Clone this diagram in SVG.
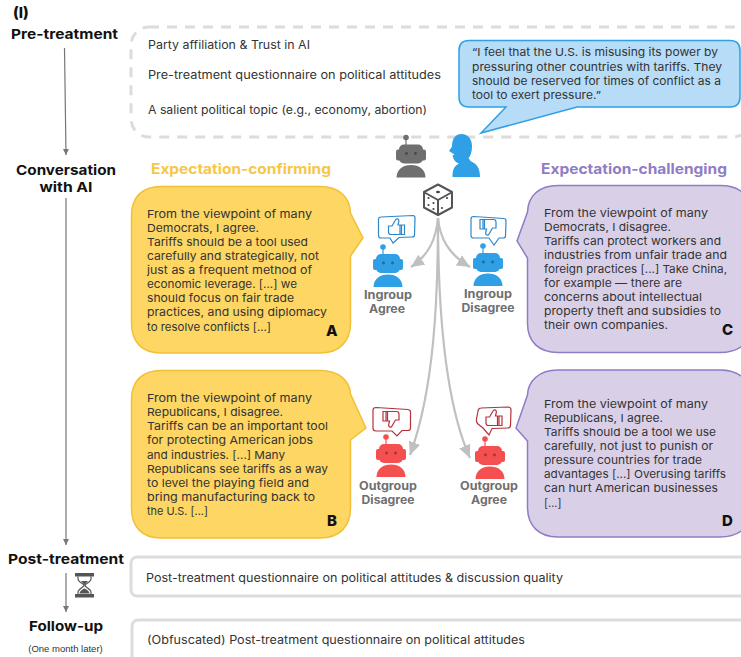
<svg xmlns="http://www.w3.org/2000/svg" width="741" height="657" viewBox="0 0 741 657">
<style>
text{font-family:"Inter","Liberation Sans",sans-serif;fill:#333}
.b{font-size:11px}
.q{font-size:11.400px}
.h{font-size:13.500px;font-weight:700;fill:#111;text-anchor:middle}
.g{font-size:11.500px;font-weight:700;fill:#6f6f6f;text-anchor:middle}
.l{font-size:15px;font-weight:800;fill:#111}
.y{fill:#fdd663;stroke:#f2c037;stroke-width:1.5}
.p{fill:#d9d0e8;stroke:#8f7cc4;stroke-width:1.5}
.box{fill:#fff;stroke:#dcdcdc;stroke-width:3}
.sb{fill:#fff;stroke-width:1.2}
.ar{fill:none;stroke:#777;stroke-width:1.2}
.cv{fill:none;stroke:#c0c0c0;stroke-width:2.2}
</style>
<defs>
<marker id="ma" markerUnits="userSpaceOnUse" markerWidth="8" markerHeight="8" refX="6" refY="3" orient="auto"><path d="M0 0L6 3L0 6Z" fill="#777"/></marker>
<marker id="mb" markerUnits="userSpaceOnUse" markerWidth="16" markerHeight="16" refX="13" refY="6" orient="auto"><path d="M0 0L13 6L0 12Z" fill="#c0c0c0"/></marker>
<g id="robot">
<circle cx="-5" cy="-7" r="2.8"/>
<rect x="-5.600" y="-6" width="1.2" height="7"/>
<rect x="-15" y="5" width="5" height="11" rx="2"/>
<rect x="10" y="5" width="5" height="11" rx="2"/>
<rect x="-12" y="0" width="24" height="19" rx="5"/>
<circle cx="-4.500" cy="9" r="1.400" fill="#000" fill-opacity=".35"/>
<circle cx="4.500" cy="9" r="1.400" fill="#000" fill-opacity=".35"/>
<path d="M-14.500 33C-14.500 25-8 20.500 0 20.500C8 20.500 14.500 25 14.500 33Z"/>
</g>
<path id="thumb" d="M-8-1h3.500l3.500-6c.9-2 3.400-1.400 3.400 .9l-.9 4.100h3.500v9.500h-10.500c-1.800 0-2.500-1.100-2.500-2.800zM3.500-2h4.500v9.500h-4.500z" fill="none" stroke-width="1.200"/>
</defs>

<g id="connectors">
<path class="ar" d="M64.500 48L66 155" marker-end="url(#ma)"/>
<path class="ar" d="M66 198L66 545" marker-end="url(#ma)"/>
<path class="ar" d="M66 573L66 612" marker-end="url(#ma)"/>
<path class="cv" d="M438 218C436 238 430 254 411 267" marker-end="url(#mb)"/>
<path class="cv" d="M438 218C440 238 448 254 470 267" marker-end="url(#mb)"/>
<path class="cv" d="M438 218C438 300 434 390 410 455" marker-end="url(#mb)"/>
<path class="cv" d="M438 218C438 300 444 400 470 458" marker-end="url(#mb)"/>
</g>

<g id="stage-labels">
<text x="13" y="18" class="l">(I)</text>
<text x="64.500" y="39" class="h" textLength="107" lengthAdjust="spacingAndGlyphs">Pre-treatment</text>
<text x="66" y="175" class="h" textLength="100" lengthAdjust="spacingAndGlyphs">Conversation</text>
<text x="66" y="192" class="h" textLength="53" lengthAdjust="spacingAndGlyphs">with AI</text>
<text x="66" y="564" class="h" textLength="116" lengthAdjust="spacingAndGlyphs">Post-treatment</text>
<text x="66" y="631" class="h" textLength="74" lengthAdjust="spacingAndGlyphs">Follow-up</text>
<text x="65.500" y="652" text-anchor="middle" style="font-family:'Liberation Sans',sans-serif;font-size:9.500px">(One month later)</text>
</g>

<g id="pretreatment-box">
<rect x="131" y="27" width="620" height="110" rx="18" fill="#fff" stroke="#dcdcdc" stroke-width="3" stroke-dasharray="10 8"/>
<text x="148" y="49" class="q" textLength="162" lengthAdjust="spacingAndGlyphs">Party affiliation &amp; Trust in AI</text>
<text x="148" y="79" class="q" textLength="293" lengthAdjust="spacingAndGlyphs">Pre-treatment questionnaire on political attitudes</text>
<text x="148" y="114" class="q" textLength="279" lengthAdjust="spacingAndGlyphs">A salient political topic (e.g., economy, abortion)</text>
</g>

<g id="user-quote">
<path d="M469 40.500H730Q740 40.500 740 50.500V97Q740 107 730 107H577L481 133L506 107H469Q459 107 459 97V50.500Q459 40.500 469 40.500Z" fill="#b6dcf7" stroke="#2f9fe6" stroke-width="1.500"/>
<text x="472" y="56" class="b" textLength="246" lengthAdjust="spacingAndGlyphs">“I feel that the U.S. is misusing its power by</text>
<text x="472" y="70.500" class="b" textLength="250" lengthAdjust="spacingAndGlyphs">pressuring other countries with tariffs. They</text>
<text x="472" y="85" class="b" textLength="249" lengthAdjust="spacingAndGlyphs">should be reserved for times of conflict as a</text>
<text x="472" y="99" class="b" textLength="129" lengthAdjust="spacingAndGlyphs">tool to exert pressure.”</text>
</g>

<g id="ai-robot"><use href="#robot" x="411" y="144.500" fill="#6f6f6f"/></g>
<g id="human">
<path d="M452.500 177C452.500 170 454 166 459 163.500C456.500 163 454.500 161 453.500 158.500L452.500 155.500L454.500 154.500L449 151L452 146.500C452 138 456 134 461.500 134C468 134 472 139 472 146C472 152 470.500 156 468.500 158L470.500 161C477 164 480 168 480 177Z" fill="#2f9fe6"/>
</g>

<g id="dice" fill="none" stroke="#555" stroke-width="2" stroke-linejoin="round">
<path d="M438 184.500L452 192V207.500L438 215L424 207.500V192Z"/>
<path d="M424.500 192.500L438 200L451.500 192.500M438 200V214"/>
<g fill="#444" stroke="none">
<ellipse cx="438" cy="192" rx="2" ry="1.300"/>
<circle cx="428.500" cy="198" r="1.100"/><circle cx="433.500" cy="203" r="1.100"/><circle cx="428.500" cy="205" r="1.100"/><circle cx="433.500" cy="209" r="1.100"/>
<circle cx="447" cy="198" r="1.100"/><circle cx="442" cy="208" r="1.100"/>
</g>
</g>

<text id="heading-confirming" x="151" y="174" textLength="180" lengthAdjust="spacingAndGlyphs" style="font-size:14px;font-weight:700;fill:#f6c744">Expectation-confirming</text>
<text id="heading-challenging" x="541" y="174" textLength="186" lengthAdjust="spacingAndGlyphs" style="font-size:14px;font-weight:700;fill:#8f7cc4">Expectation-challenging</text>

<g id="bubble-a">
<path class="y" d="M161 186.500H320C339 186.500 350 197 350.500 213L363 238L350.500 256V323C350.500 342 339 353 320 353H161C142 353 131.500 342 131.500 323V216C131.500 197 142 186.500 161 186.500Z"/>
<text x="147" y="218" class="b" textLength="165" lengthAdjust="spacingAndGlyphs">From the viewpoint of many</text>
<text x="147" y="232" class="b" textLength="112" lengthAdjust="spacingAndGlyphs">Democrats, I agree.</text>
<text x="147" y="246" class="b" textLength="161" lengthAdjust="spacingAndGlyphs">Tariffs should be a tool used</text>
<text x="147" y="260" class="b" textLength="172" lengthAdjust="spacingAndGlyphs">carefully and strategically, not</text>
<text x="147" y="274" class="b" textLength="165" lengthAdjust="spacingAndGlyphs">just as a frequent method of</text>
<text x="147" y="288" class="b" textLength="150" lengthAdjust="spacingAndGlyphs">economic leverage. [...] we</text>
<text x="147" y="302" class="b" textLength="147" lengthAdjust="spacingAndGlyphs">should focus on fair trade</text>
<text x="147" y="316" class="b" textLength="180" lengthAdjust="spacingAndGlyphs">practices, and using diplomacy</text>
<text x="147" y="331" class="b" textLength="124" lengthAdjust="spacingAndGlyphs">to resolve conflicts [...]</text>
<text x="326" y="336" class="l">A</text>
</g>

<g id="bubble-b">
<path class="y" d="M161 370.500H320C339 370.500 350 381 350.500 394L366 428L350.500 440V508C350.500 527 339 538 320 538H161C142 538 131.500 527 131.500 508V400C131.500 381 142 370.500 161 370.500Z"/>
<text x="147" y="402" class="b" textLength="165" lengthAdjust="spacingAndGlyphs">From the viewpoint of many</text>
<text x="147" y="416" class="b" textLength="136" lengthAdjust="spacingAndGlyphs">Republicans, I disagree.</text>
<text x="147" y="430" class="b" textLength="181" lengthAdjust="spacingAndGlyphs">Tariffs can be an important tool</text>
<text x="147" y="444" class="b" textLength="166" lengthAdjust="spacingAndGlyphs">for protecting American jobs</text>
<text x="147" y="459" class="b" textLength="138" lengthAdjust="spacingAndGlyphs">and industries. [...] Many</text>
<text x="147" y="473" class="b" textLength="181" lengthAdjust="spacingAndGlyphs">Republicans see tariffs as a way</text>
<text x="147" y="487" class="b" textLength="162" lengthAdjust="spacingAndGlyphs">to level the playing field and</text>
<text x="147" y="501" class="b" textLength="168" lengthAdjust="spacingAndGlyphs">bring manufacturing back to</text>
<text x="147" y="515" class="b" textLength="61" lengthAdjust="spacingAndGlyphs">the U.S. [...]</text>
<text x="327" y="526" class="l">B</text>
</g>

<g id="bubble-c">
<path class="p" d="M558 185.500H720C740 185.500 752 196 752 215V323C752 342 740 352.500 720 352.500H558C539 352.500 527.500 342 527.500 323V258L517 241L527.500 212C528 196 539 185.500 558 185.500Z"/>
<text x="544" y="217" class="b" textLength="164" lengthAdjust="spacingAndGlyphs">From the viewpoint of many</text>
<text x="544" y="231" class="b" textLength="127" lengthAdjust="spacingAndGlyphs">Democrats, I disagree.</text>
<text x="544" y="245" class="b" textLength="177" lengthAdjust="spacingAndGlyphs">Tariffs can protect workers and</text>
<text x="544" y="259" class="b" textLength="183" lengthAdjust="spacingAndGlyphs">industries from unfair trade and</text>
<text x="544" y="273" class="b" textLength="183" lengthAdjust="spacingAndGlyphs">foreign practices [...] Take China,</text>
<text x="544" y="287" class="b" textLength="138" lengthAdjust="spacingAndGlyphs">for example — there are</text>
<text x="544" y="301" class="b" textLength="158" lengthAdjust="spacingAndGlyphs">concerns about intellectual</text>
<text x="544" y="315" class="b" textLength="177" lengthAdjust="spacingAndGlyphs">property theft and subsidies to</text>
<text x="544" y="329" class="b" textLength="124" lengthAdjust="spacingAndGlyphs">their own companies.</text>
<text x="722" y="335" class="l">C</text>
</g>

<g id="bubble-d">
<path class="p" d="M558 370H720C740 370 752 381 752 400V507C752 526 740 537 720 537H558C539 537 527.500 526 527.500 507V441L516 428L527.500 395C528 381 539 370 558 370Z"/>
<text x="544" y="408" class="b" textLength="164" lengthAdjust="spacingAndGlyphs">From the viewpoint of many</text>
<text x="544" y="422" class="b" textLength="119" lengthAdjust="spacingAndGlyphs">Republicans, I agree.</text>
<text x="544" y="436" class="b" textLength="172" lengthAdjust="spacingAndGlyphs">Tariffs should be a tool we use</text>
<text x="544" y="450" class="b" textLength="169" lengthAdjust="spacingAndGlyphs">carefully, not just to punish or</text>
<text x="544" y="464" class="b" textLength="158" lengthAdjust="spacingAndGlyphs">pressure countries for trade</text>
<text x="544" y="478" class="b" textLength="182" lengthAdjust="spacingAndGlyphs">advantages [...] Overusing tariffs</text>
<text x="544" y="492" class="b" textLength="174" lengthAdjust="spacingAndGlyphs">can hurt American businesses</text>
<text x="544" y="507" class="b">[...]</text>
<text x="722" y="526" class="l">D</text>
</g>

<g id="ingroup-agree">
<path class="sb" stroke="#2f86c9" d="M381 217L413 215.500Q415 215.500 415 218L414.500 235Q414.500 237 412 237L399 237.500L393 243L390 238L381 238Q378.500 238 378.500 235.500V219.500Q378.500 217 381 217Z"/>
<use href="#thumb" x="396.500" y="227" stroke="#2f86c9"/>
<use href="#robot" x="388" y="254" fill="#2f9fe6"/>
<text x="388" y="299" class="g" textLength="48" lengthAdjust="spacingAndGlyphs">Ingroup</text>
<text x="387" y="313" class="g" textLength="36" lengthAdjust="spacingAndGlyphs">Agree</text>
</g>
<g id="ingroup-disagree">
<path class="sb" stroke="#2f86c9" d="M473.500 216.500L504 218.500Q506 218.500 506 221L505.500 236Q505.500 238 503 238L499 238L494 245L489 238L473.500 238Q471 238 471 235.500V219Q471 216.500 473.500 216.500Z"/>
<use href="#thumb" transform="translate(488 227) rotate(180)" stroke="#2f86c9"/>
<use href="#robot" x="488" y="253" fill="#2f9fe6"/>
<text x="488" y="298" class="g" textLength="48" lengthAdjust="spacingAndGlyphs">Ingroup</text>
<text x="488" y="312" class="g" textLength="53" lengthAdjust="spacingAndGlyphs">Disagree</text>
</g>
<g id="outgroup-disagree">
<path class="sb" stroke="#b5323a" d="M376 407.500L408 409.500Q410.500 410 410.500 412V428Q410.500 430.500 408 430.500H402L397 436L392 431H376Q373 431 373 428V410Q373 407.500 376 407.500Z"/>
<use href="#thumb" transform="translate(391 419) rotate(180)" stroke="#b5323a"/>
<use href="#robot" x="391" y="444" fill="#f55050"/>
<text x="388" y="490" class="g" textLength="58" lengthAdjust="spacingAndGlyphs">Outgroup</text>
<text x="388" y="504" class="g" textLength="53" lengthAdjust="spacingAndGlyphs">Disagree</text>
</g>
<g id="outgroup-agree">
<path class="sb" stroke="#b5323a" d="M481 408L508 407Q511 407 511 410L510.500 425Q510.500 428 508 428L492 428.500L489 435L483 428L478 424Q476 422 476.500 419L478 411Q478.500 408 481 408Z"/>
<use href="#thumb" x="494" y="418" stroke="#b5323a"/>
<use href="#robot" x="490" y="446" fill="#f55050"/>
<text x="489" y="490" class="g" textLength="58" lengthAdjust="spacingAndGlyphs">Outgroup</text>
<text x="489" y="504" class="g" textLength="36" lengthAdjust="spacingAndGlyphs">Agree</text>
</g>

<g id="post-treatment-box">
<rect class="box" x="131" y="557" width="620" height="39" rx="6"/>
<text x="146" y="582" class="q" textLength="417" lengthAdjust="spacingAndGlyphs">Post-treatment questionnaire on political attitudes &amp; discussion quality</text>
</g>
<g id="hourglass">
<rect x="75" y="573" width="19" height="3.500" fill="#555"/>
<rect x="75" y="594" width="19" height="3.500" fill="#555"/>
<path d="M78 576.500V579C78 582 84 584 84 585.500C84 587 78 589 78 592V594M91 576.500V579C91 582 85 584 85 585.500C85 587 91 589 91 592V594" fill="none" stroke="#555" stroke-width="1.200"/>
<path d="M81 581H88L84.500 585ZM79.500 593.500C80 590 84.500 588.500 84.500 588.500C84.500 588.500 89 590 89.500 593.500Z" fill="#555"/>
</g>
<g id="follow-up-box">
<rect class="box" x="132" y="620" width="620" height="50" rx="6"/>
<text x="147" y="644" class="q" textLength="378" lengthAdjust="spacingAndGlyphs">(Obfuscated) Post-treatment questionnaire on political attitudes</text>
</g>
</svg>
